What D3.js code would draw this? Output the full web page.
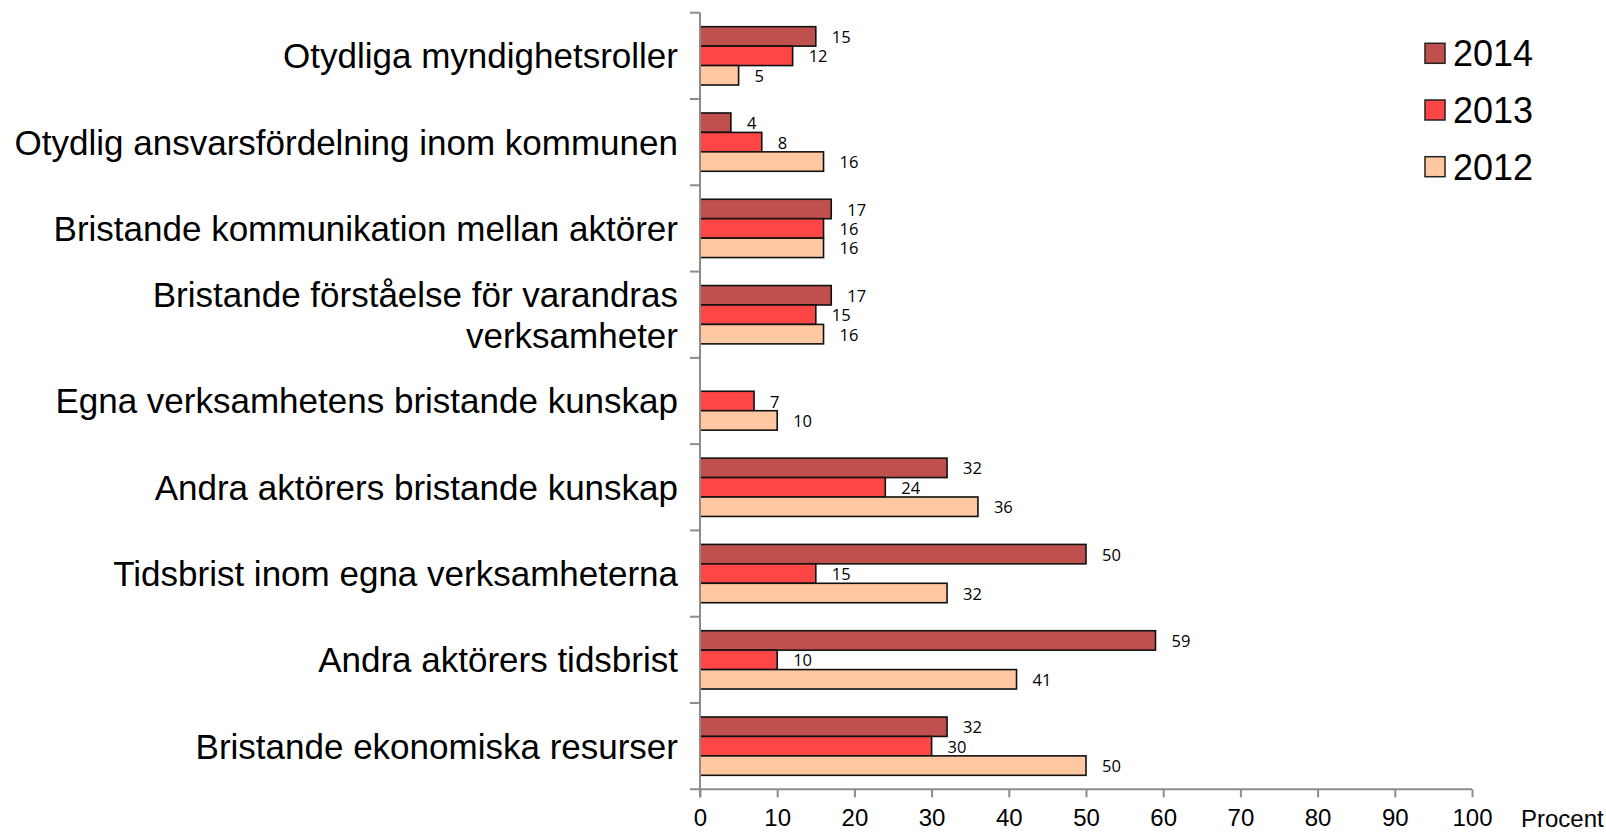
<!DOCTYPE html>
<html><head><meta charset="utf-8">
<script src="https://cdn.jsdelivr.net/npm/d3@7"></script>
<style>
html,body{margin:0;padding:0;background:#fff;}
svg{display:block;}
</style></head>
<body>
<svg id="chart" width="1606" height="832"></svg>
<script>
const categories = [
  "Otydliga myndighetsroller",
  "Otydlig ansvarsfördelning inom kommunen",
  "Bristande kommunikation mellan aktörer",
  "Bristande förståelse för varandras verksamheter",
  "Egna verksamhetens bristande kunskap",
  "Andra aktörers bristande kunskap",
  "Tidsbrist inom egna verksamheterna",
  "Andra aktörers tidsbrist",
  "Bristande ekonomiska resurser"
];
const seriesNames = ["2014", "2013", "2012"];
const values2014 = [15, 4, 17, 17, null, 32, 50, 59, 32];
const values2013 = [12, 8, 16, 15, 7, 24, 15, 10, 30];
const values2012 = [5, 16, 16, 16, 10, 36, 32, 41, 50];
const xTicks = [0, 10, 20, 30, 40, 50, 60, 70, 80, 90, 100];
const xAxisTitle = "Procent";
const colors = {"2014": "#C0504D", "2013": "#FF4646", "2012": "#FFC8A1"};

(function () {
const seriesValues = {"2014": values2014, "2013": values2013, "2012": values2012};
const rows = [];
categories.forEach((c, i) => seriesNames.forEach(s => {
  if (seriesValues[s][i] != null) rows.push({cat: c, series: s, value: seriesValues[s][i]});
}));

const svg = d3.select("#chart");
const plotLeft = 700, plotRight = 1472, plotTop = 12.7, plotBottom = 789.3;

const x = d3.scaleLinear().domain([0, 100]).range([plotLeft, plotRight]);
const y = d3.scaleBand().domain(categories).range([plotTop, plotBottom]).paddingInner(0).paddingOuter(0);
const y1 = d3.scaleBand().domain(seriesNames).range([0, y.bandwidth()]).paddingInner(0).paddingOuter(0.72);

// bars
svg.append("g").selectAll("rect").data(rows).join("rect")
  .attr("x", x(0))
  .attr("y", d => y(d.cat) + y1(d.series))
  .attr("width", d => x(d.value) - x(0))
  .attr("height", y1.bandwidth())
  .attr("fill", d => colors[d.series])
  .attr("stroke", "#111")
  .attr("stroke-width", 1.6);

// data labels
svg.append("g").selectAll("text").data(rows).join("text")
  .attr("x", d => x(d.value) + 16)
  .attr("y", d => y(d.cat) + y1(d.series) + y1.bandwidth() / 2 + 6.6)
  .attr("font-family", "'Open Sans', sans-serif")
  .attr("font-size", 16.5)
  .attr("fill", "#000")
  .text(d => d.value);

// x axis
const axisColor = "#8c8c8c";
const xAxis = svg.append("g").attr("transform", `translate(0,${plotBottom})`)
  .call(d3.axisBottom(x).tickValues(xTicks).tickSize(8).tickPadding(0).tickFormat(d3.format("d")));
xAxis.select(".domain").remove();
xAxis.selectAll(".tick line").attr("stroke", axisColor).attr("stroke-width", 2);
xAxis.selectAll(".tick text").attr("font-family", "'Liberation Sans', Arial, sans-serif")
  .attr("font-size", 24).attr("fill", "#000").attr("dy", null).attr("y", 37.2);
xAxis.append("line").attr("x1", plotLeft - 10).attr("x2", plotRight).attr("y1", 0).attr("y2", 0)
  .attr("stroke", axisColor).attr("stroke-width", 2);

// y axis
const boundaries = categories.map(c => y(c));
const yAxis = svg.append("g");
yAxis.append("line").attr("x1", plotLeft).attr("x2", plotLeft).attr("y1", plotTop).attr("y2", plotBottom + 8)
  .attr("stroke", axisColor).attr("stroke-width", 2);
yAxis.selectAll("line.tk").data(boundaries).join("line").attr("class", "tk")
  .attr("x1", plotLeft - 10).attr("x2", plotLeft).attr("y1", d => d).attr("y2", d => d)
  .attr("stroke", axisColor).attr("stroke-width", 2);

// category labels with wrapping
const labelFont = 35, lineH = 41, maxW = 680;
const catG = svg.append("g");
categories.forEach(c => {
  const cy = y(c) + y.bandwidth() / 2;
  const t = catG.append("text").attr("text-anchor", "end")
    .attr("font-family", "'Liberation Sans', Arial, sans-serif")
    .attr("font-size", labelFont).attr("fill", "#000");
  const words = c.split(" ");
  let lines = [], cur = [];
  const probe = catG.append("text").attr("font-family", "'Liberation Sans', Arial, sans-serif").attr("font-size", labelFont);
  words.forEach(w => {
    const test = cur.concat([w]).join(" ");
    probe.text(test);
    if (probe.node().getComputedTextLength() > maxW && cur.length) { lines.push(cur.join(" ")); cur = [w]; }
    else cur.push(w);
  });
  lines.push(cur.join(" "));
  probe.remove();
  const baseline0 = cy - (lines.length - 1) * lineH / 2 + labelFont * 0.355;
  lines.forEach((ln, i) => {
    t.append("tspan").attr("x", 678).attr("y", baseline0 + i * lineH).text(ln);
  });
});

// axis title
svg.append("text").attr("x", 1521).attr("y", 827)
  .attr("font-family", "'Liberation Sans', Arial, sans-serif").attr("font-size", 24)
  .attr("fill", "#000").text(xAxisTitle);

// legend
const legend = svg.append("g");
seriesNames.forEach((s, i) => {
  const cy = 53.3 + i * 56.7;
  legend.append("rect").attr("x", 1425).attr("y", cy - 10).attr("width", 20).attr("height", 20)
    .attr("fill", colors[s]).attr("stroke", "#222").attr("stroke-width", 1.5);
  legend.append("text").attr("x", 1453).attr("y", cy + 12.8)
    .attr("font-family", "'Liberation Sans', Arial, sans-serif").attr("font-size", 36)
    .attr("fill", "#000").text(s);
});
})();
</script>
</body></html>
